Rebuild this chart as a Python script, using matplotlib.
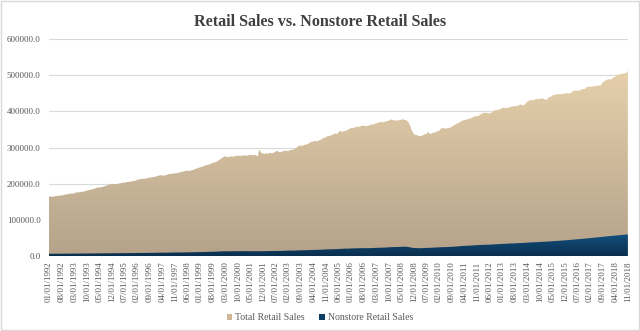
import numpy as np
import pandas as pd
import matplotlib
matplotlib.use("Agg")
import matplotlib.pyplot as plt
from matplotlib.patches import Patch, Rectangle
from matplotlib.colors import LinearSegmentedColormap

# monthly values, Jan 1992 .. Nov 2018 (millions of dollars)
total_sales = [
    164100, 164300, 163800, 164800, 165600, 166100, 167000, 167500, 168500, 169800, 170300, 171900,  # 1992
    172900, 172100, 173400, 175500, 176200, 176000, 177100, 177800, 179000, 180700, 181900, 183200,  # 1993
    184400, 185500, 187800, 189000, 189500, 190100, 191300, 193200, 194800, 196300, 198000, 199600,  # 1994
    198800, 198100, 199500, 200400, 201200, 203000, 202500, 204100, 205300, 205000, 206200, 207400,  # 1995
    208000, 210600, 211800, 212500, 213600, 213100, 214400, 215500, 216800, 217400, 218100, 219000,  # 1996
    220800, 222300, 223500, 222700, 222200, 223600, 225400, 226700, 227300, 228100, 228600, 229200,  # 1997
    230400, 231500, 232600, 233900, 235400, 236000, 235300, 236800, 237500, 240200, 241600, 243800,  # 1998
    245100, 246600, 248300, 250200, 251600, 252800, 255400, 257100, 259000, 260100, 263200, 266500,  # 1999
    270100, 273600, 275800, 273400, 273900, 275600, 275200, 274500, 277800, 276700, 277200, 276400,  # 2000
    278600, 278100, 277200, 278800, 279900, 279300, 278700, 279500, 275600, 294800, 285400, 283600,  # 2001
    282300, 284100, 283400, 285700, 283600, 285800, 288500, 291200, 287100, 287600, 289200, 290800,  # 2002
    291700, 289400, 293300, 293100, 294500, 297300, 300800, 304900, 305200, 304700, 306900, 308100,  # 2003
    310200, 312300, 316400, 315800, 318900, 316500, 319800, 320600, 324400, 326500, 328300, 331700,  # 2004
    331200, 334300, 335600, 339400, 337500, 341800, 346200, 343100, 345400, 346000, 348700, 350300,  # 2005
    354600, 354100, 355200, 357400, 357000, 358100, 360200, 360800, 359300, 359700, 360400, 364100,  # 2006
    363200, 364800, 367300, 367900, 371000, 369800, 370300, 371400, 372900, 374200, 377800, 376600,  # 2007
    375100, 374200, 374800, 375600, 377300, 377900, 376400, 374500, 369800, 358700, 345300, 336900,  # 2008
    334800, 334100, 331200, 331900, 333600, 336800, 337400, 343300, 337100, 339200, 341600, 342000,  # 2009
    344800, 346100, 351900, 354300, 352500, 352700, 353400, 354800, 356900, 360500, 363700, 366200,  # 2010
    368500, 371600, 374300, 376300, 376700, 378600, 380200, 381100, 384500, 386000, 386600, 387800,  # 2011
    391100, 394600, 395800, 396200, 395300, 394400, 396000, 399200, 403600, 402900, 404700, 405800,  # 2012
    408200, 410600, 409300, 409200, 411000, 412700, 413400, 414500, 414800, 416200, 418400, 418600,  # 2013
    415900, 421200, 426400, 429600, 430600, 431400, 431800, 434600, 433900, 434600, 436100, 435000,  # 2014
    432400, 432600, 439000, 439700, 444200, 445100, 446500, 447500, 447600, 447300, 448600, 448900,  # 2015
    450700, 449200, 449600, 454800, 456500, 457800, 457600, 456800, 460200, 461600, 462000, 466500,  # 2016
    468300, 467900, 468100, 469900, 469200, 470900, 471800, 472500, 479700, 483500, 486700, 488700,  # 2017
    488300, 488600, 493800, 495700, 500700, 501400, 503900, 504200, 504900, 505900, 512300,          # 2018
]

nonstore_sales = [
    6100, 6150, 6120, 6200, 6250, 6280, 6300, 6350, 6380, 6420, 6460, 6500,
    6550, 6500, 6580, 6650, 6700, 6720, 6760, 6800, 6850, 6900, 6950, 7000,
    7050, 7100, 7180, 7220, 7250, 7300, 7350, 7400, 7450, 7500, 7550, 7620,
    7650, 7600, 7680, 7720, 7780, 7850, 7880, 7920, 7980, 8020, 8080, 8150,
    8200, 8300, 8350, 8400, 8480, 8500, 8550, 8620, 8700, 8750, 8800, 8880,
    8950, 9050, 9100, 9150, 9200, 9280, 9350, 9420, 9500, 9580, 9650, 9750,
    9800, 9850, 9900, 10000, 10100, 10150, 10200, 10300, 10380, 10500, 10620, 10750,
    10850, 10950, 11100, 11250, 11400, 11500, 11650, 11800, 11950, 12100, 12300, 12500,
    12700, 12950, 13100, 13000, 13050, 13150, 13200, 13250, 13400, 13350, 13400, 13350,
    13500, 13450, 13300, 13350, 13400, 13300, 13200, 13250, 13100, 13300, 13350, 13300,
    13400, 13500, 13600, 13750, 13700, 13800, 13900, 14000, 14050, 14100, 14250, 14400,
    14600, 14900, 15000, 14900, 15050, 15200, 15400, 15600, 15700, 15800, 15950, 16100,
    16300, 16400, 16600, 16700, 16900, 17000, 17200, 17400, 17600, 17900, 18100, 18300,
    18400, 18550, 18700, 18900, 19000, 19300, 19600, 19800, 20300, 20400, 20300, 20500,
    20900, 21000, 21100, 21300, 21400, 21500, 21700, 21800, 21600, 21500, 21700, 21900,
    22100, 22300, 22500, 22700, 22900, 23000, 23200, 23300, 23600, 23900, 24300, 24500,
    24800, 24700, 24900, 25100, 25400, 25700, 25800, 25300, 24800, 23900, 22800, 22000,
    21900, 21800, 21600, 21700, 21900, 22200, 22300, 22500, 22600, 22900, 23200, 23400,
    23700, 23900, 24300, 24500, 24600, 24700, 24900, 25100, 25400, 25700, 26100, 26500,
    26900, 27300, 27700, 28000, 28200, 28400, 28700, 29000, 29300, 29600, 29900, 30200,
    30500, 30800, 31000, 31100, 31200, 31300, 31600, 31900, 32300, 32500, 32900, 33200,
    33400, 33700, 33900, 34100, 34400, 34600, 34800, 35000, 35300, 35500, 35800, 36000,
    36200, 36600, 37000, 37300, 37500, 37800, 38000, 38300, 38500, 38800, 39100, 39300,
    39500, 39800, 40200, 40500, 40900, 41200, 41500, 41900, 42200, 42600, 43000, 43300,
    43700, 44100, 44600, 45000, 45500, 45900, 46300, 46800, 47200, 47600, 48100, 48600,
    49000, 49500, 50000, 50500, 51000, 51500, 52000, 52500, 53000, 53600, 54200, 54700,
    55100, 55500, 56000, 56500, 57000, 57400, 57900, 58300, 58800, 59300, 60000,
]

months = pd.date_range("1992-01-01", periods=len(total_sales), freq="MS")
month_labels = [d.strftime("%m/%d/%Y") for d in months]

plt.rcParams['font.family'] = ['Liberation Serif', 'DejaVu Serif']

fig = plt.figure(figsize=(6.4, 3.31), dpi=100)
ax = fig.add_axes([0.0766, 0.2266, 0.9044, 0.6554])

x = np.arange(len(total_sales))
total = np.asarray(total_sales, dtype=float)
nonstore = np.asarray(nonstore_sales, dtype=float)


def gradient_area(ax, x, y, top_col, bot_col, z):
    poly = ax.fill_between(x, 0, y, color="none", lw=0, zorder=z)
    cmap = LinearSegmentedColormap.from_list("g", [bot_col, top_col])
    grad = np.linspace(0, 1, 256).reshape(-1, 1)
    im = ax.imshow(grad, cmap=cmap, aspect="auto", origin="lower",
                   extent=[x[0], x[-1], 0, y.max()], zorder=z, interpolation="bilinear")
    im.set_clip_path(poly.get_paths()[0], transform=ax.transData)
    return poly


tan_top, tan_bot = "#E6D0AB", "#B5A28A"
navy_top, navy_bot = "#12507E", "#0B2F4E"
gradient_area(ax, x, total, tan_top, tan_bot, 2)
gradient_area(ax, x, nonstore, navy_top, navy_bot, 3)

ax.set_xlim(0, len(x) - 1)
ax.set_ylim(0, 600000)
ax.set_yticks(np.arange(0, 600001, 100000))
ax.yaxis.set_major_formatter(matplotlib.ticker.FuncFormatter(lambda v, p: f"{v:.1f}"))
ax.grid(axis="y", color="#D9D9D9", lw=0.8)
ax.set_axisbelow(True)

ticks = x[::7]
ax.set_xticks(ticks)
ax.set_xticklabels([month_labels[i] for i in ticks], rotation=90)
ax.tick_params(axis="both", length=0, labelsize=6.5, colors="#595959")
ax.tick_params(axis="x", pad=4)
ax.tick_params(axis="y", pad=6)
for s in ax.spines.values():
    s.set_visible(False)

fig.text(0.5, 0.933, "Retail Sales vs. Nonstore Retail Sales", ha="center", va="center",
         fontsize=11.6, fontweight="bold", color="#404040")

handles = [Patch(facecolor="#CDB796", label="Total Retail Sales"),
           Patch(facecolor="#0E3D62", label="Nonstore Retail Sales")]
fig.legend(handles=handles, loc="center", bbox_to_anchor=(0.5, 0.04), ncol=2, frameon=False,
           fontsize=7, handlelength=0.6, handleheight=0.6, handletextpad=0.3,
           columnspacing=1.5, labelcolor="#595959")

fig.patches.append(Rectangle((0.002, 0.003), 0.996, 0.994, transform=fig.transFigure,
                             fill=False, edgecolor="#D9D9D9", lw=1))

fig.savefig("out.png", dpi=100)
